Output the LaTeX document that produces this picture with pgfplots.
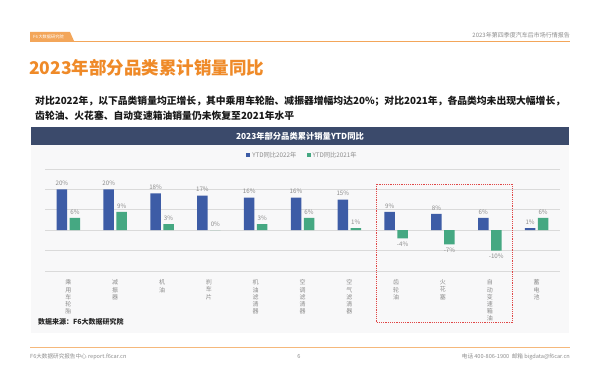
\documentclass[border=0pt]{standalone}
\usepackage{fontspec}
\setmainfont{Noto Sans CJK SC}
\usepackage{pgfplots}
\pgfplotsset{compat=1.18}
\definecolor{navy}{HTML}{3B4A6B}
\definecolor{barblue}{HTML}{3D5CA6}
\definecolor{bargreen}{HTML}{45A882}
\definecolor{orangeT}{HTML}{EF8A28}
\definecolor{orangeL}{HTML}{F3A65A}
\definecolor{panel}{HTML}{F8F8F9}
\definecolor{gridc}{HTML}{DADADA}
\definecolor{lbl}{HTML}{8C8C8C}
\definecolor{boxred}{HTML}{E04848}
\begin{document}
\begin{tikzpicture}[x=1pt,y=1pt]
% page
\fill[white] (0,0) rectangle (600,390);
% header
\fill[orangeL] (30,349) -- (30,358) -- (70,358) -- (74,349) -- cycle;
\node[anchor=west,text=white,font=\fontsize{4.2}{5}\selectfont,inner sep=0pt] at (33,353.5) {F6\,大数据研究院};
\draw[orangeL,line width=0.9pt] (30,349) -- (570,349);
\node[anchor=east,text=lbl,font=\fontsize{6}{7}\selectfont,inner sep=0pt] at (570,355) {2023年第四季度汽车后市场行情报告};
% title
\node[anchor=west,text=orangeT,font=\fontsize{17.5}{20}\selectfont\bfseries,inner sep=0pt] at (29,322) {2023年部分品类累计销量同比};
% subtitle
\node[anchor=west,text=black!90,font=\fontsize{9.8}{12}\selectfont\bfseries,inner sep=0pt] at (35,289) {对比2022年，以下品类销量均正增长，其中乘用车轮胎、减振器增幅均达20\%；对比2021年，各品类均未出现大幅增长，};
\node[anchor=west,text=black!90,font=\fontsize{9.8}{12}\selectfont\bfseries,inner sep=0pt] at (35,274) {齿轮油、火花塞、自动变速箱油销量仍未恢复至2021年水平};
% chart panel
\fill[panel] (31,57) rectangle (569,245);
\fill[navy] (31,245) rectangle (569,263);
\node[text=white,font=\fontsize{8.3}{10}\selectfont\bfseries,inner sep=0pt] at (300,254) {2023年部分品类累计销量YTD同比};
\coordinate (axsw) at (45,119);
% axis
\begin{axis}[
  at={(axsw)}, anchor=south west,
  width=515pt, height=102pt, scale only axis,
  xmin=-0.5, xmax=10.5, ymin=-20, ymax=30,
  ybar=2.5pt, bar width=10.5pt,
  axis line style={draw=none},
  major tick style={draw=none},
  ytick={-20,-10,0,10,20,30},
  yticklabels={},
  ymajorgrids, grid style={gridc,line width=0.6pt},
  xtick={0,...,10},
  xticklabels={{乘\\用\\车\\轮\\胎},{减\\振\\器},{机\\油},{刹\\车\\片},{机\\油\\滤\\清\\器},{空\\调\\滤\\清\\器},{空\\气\\滤\\清\\器},{齿\\轮\\油},{火\\花\\塞},{自\\动\\变\\速\\箱\\油},{蓄\\电\\池}},
  xticklabel style={anchor=north,align=center,font=\fontsize{6}{7.2}\selectfont,text=lbl,yshift=-1pt},
  nodes near coords={\pgfmathprintnumber[assume math mode=true]{\pgfplotspointmeta}\%},
  nodes near coords align=vertical,
  every node near coord/.append style={font=\fontsize{6.2}{7}\selectfont,text=lbl},
  legend style={at={(0.5,1)},anchor=south,yshift=6pt,draw=none,fill=none,legend columns=2,font=\fontsize{6.3}{7}\selectfont,text=lbl,/tikz/every even column/.append style={column sep=8pt}},
  legend image code/.code={\fill[#1] (0pt,-2pt) rectangle (4pt,2pt);},
]
\addplot[fill=barblue,draw=none] coordinates {(0,20) (1,20) (2,18) (3,17) (4,16) (5,16) (6,15) (7,9) (8,8) (9,6) (10,1)};
\addplot[fill=bargreen,draw=none] coordinates {(0,6) (1,9) (2,3) (3,0) (4,3) (5,6) (6,1) (7,-4) (8,-7) (9,-10) (10,6)};
\legend{YTD同比2022年,YTD同比2021年}
\end{axis}
% red dotted box
\draw[boxred,line width=0.8pt,dash pattern=on 1.2pt off 1pt] (376,206) rectangle (512,68);
% data source
\node[anchor=west,text=black!85,font=\fontsize{7}{8}\selectfont\bfseries,inner sep=0pt] at (38,68) {数据来源：F6大数据研究院};
% footer
\draw[orangeL!80,line width=0.8pt] (30,43) -- (570,43);
\node[anchor=west,text=lbl,font=\fontsize{5.6}{7}\selectfont,inner sep=0pt] at (30,33) {F6大数据研究报告中心 report.f6car.cn};
\node[text=lbl,font=\fontsize{5.6}{7}\selectfont,inner sep=0pt] at (299,33) {6};
\node[anchor=east,text=lbl,font=\fontsize{5.6}{7}\selectfont,inner sep=0pt] at (570,33) {电话 400-806-1900\ \ 邮箱 bigdata@f6car.cn};
\end{tikzpicture}
\end{document}
